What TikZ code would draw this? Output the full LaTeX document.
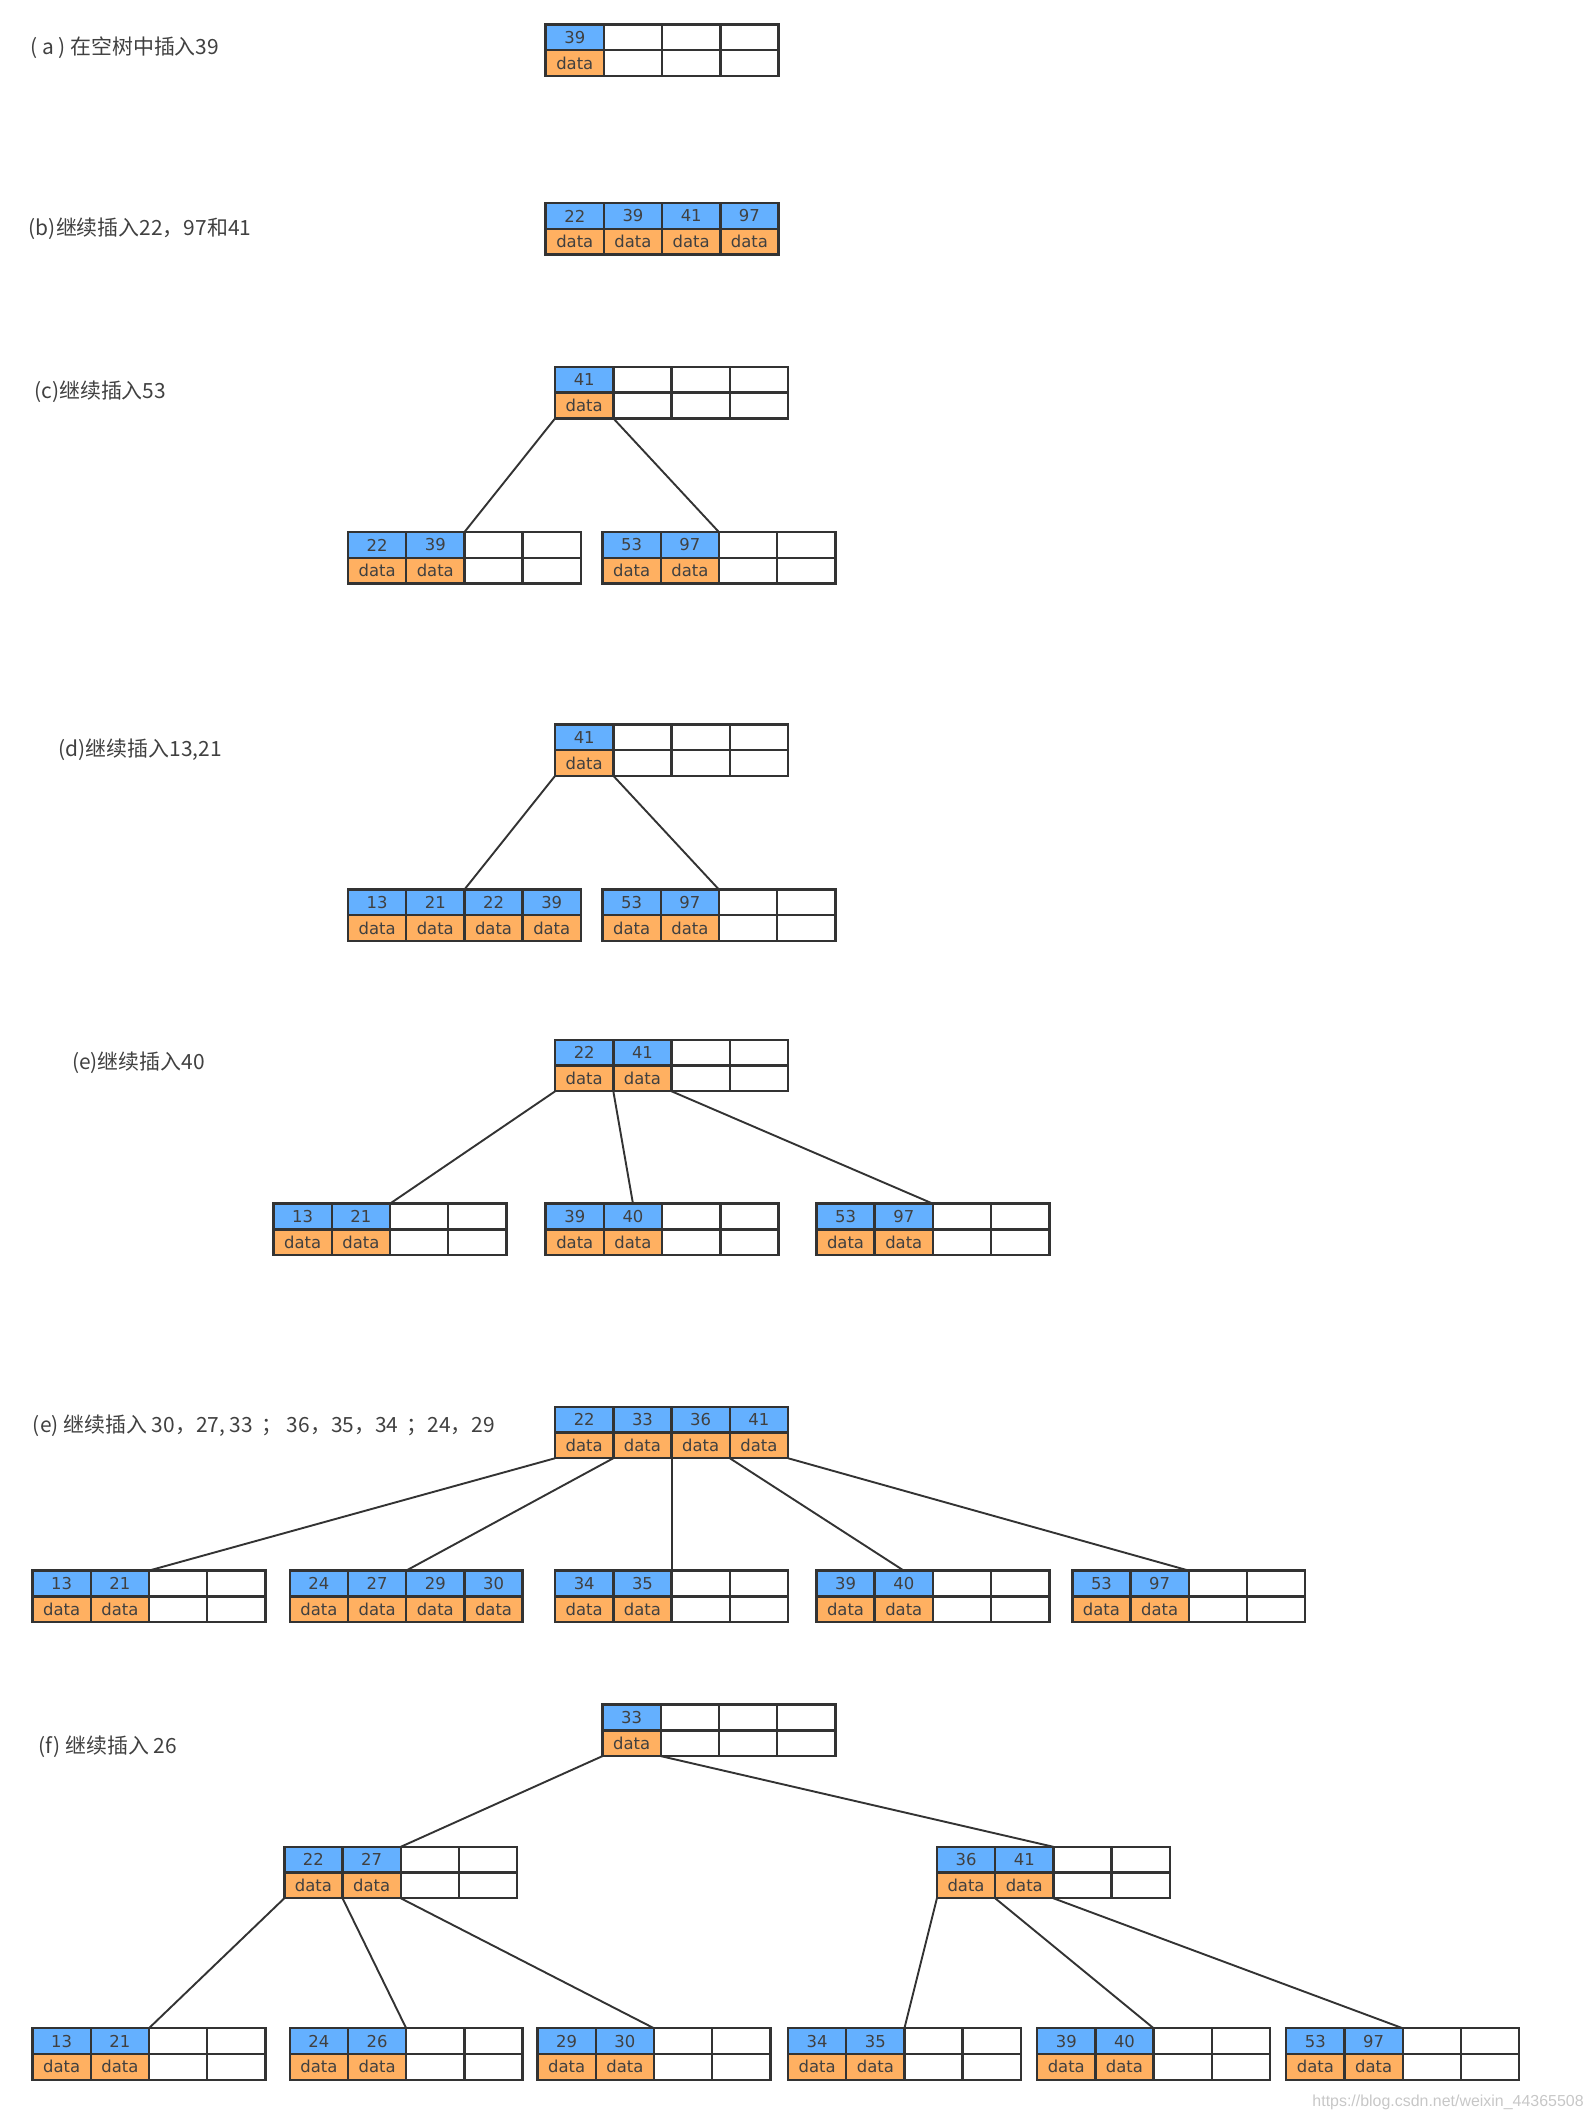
\documentclass[tikz,border=0pt]{standalone}
\usepackage{fontspec}
\setmainfont{DejaVu Sans}
\newfontfamily\cjk{Noto Sans CJK SC}
\newfontfamily\urlfont{Liberation Sans}
\usetikzlibrary{calc}

\definecolor{keyblue}{RGB}{100,176,255}
\definecolor{dataorange}{RGB}{255,176,97}
\definecolor{edge}{RGB}{51,51,51}
\definecolor{ink}{RGB}{64,64,64}

\tikzset{
  cell/.style={rectangle, draw=edge, line width=1pt, inner sep=0pt, outer sep=0pt,
    minimum width=8.6mm, minimum height=3.8mm, text=ink, font=\fontsize{6.9}{7}\selectfont},
  keycell/.style={cell, fill=keyblue},
  datacell/.style={cell, fill=dataorange},
  link/.style={draw=edge, line width=0.8pt},
  lbl/.style={anchor=west, inner sep=0pt, text=ink, font=\cjk\fontsize{8.8}{10}\selectfont},
}

% B 树结点：#1 名字，#2 左上角，#3 关键字
\newcommand{\btnode}[3]{%
  \coordinate (#1) at (#2);
  \foreach \i in {1,...,4} {
    \node[cell] (#1-k\i) at ($(#1)+(\i*43-21.5,9.5)$) {};
    \node[cell] (#1-d\i) at ($(#1)+(\i*43-21.5,28.5)$) {};
  }
  \foreach \k [count=\i] in {#3} {
    \node[keycell]  at (#1-k\i) {\k};
    \node[datacell] at (#1-d\i) {data};
  }
}

\begin{document}
\begin{tikzpicture}[x=0.2mm, y=-0.2mm]
  \useasboundingbox (0,0) rectangle (1177,1568);

  % (a)
  \node[lbl] (la) at (22,35) {( a ) 在空树中插入39};
  \btnode{a}{403,18}{39}

  % (b)
  \node[lbl] (lb) at (21,169) {(b)继续插入22，97和41};
  \btnode{b}{403,150}{22,39,41,97}

  % (c) 分裂出根 41
  \node[lbl] (lc) at (25,289) {(c)继续插入53};
  \btnode{c0}{410,271}{41}
  \btnode{c1}{257,393}{22,39}
  \btnode{c2}{445,393}{53,97}
  \draw[link] (c0-d1.south west) -- (c1-k2.north east);
  \draw[link] (c0-d1.south east) -- (c2-k2.north east);

  % (d)
  \node[lbl] (ld) at (43,554) {(d)继续插入13,21};
  \btnode{d0}{410,535}{41}
  \btnode{d1}{257,657}{13,21,22,39}
  \btnode{d2}{445,657}{53,97}
  \draw[link] (d0-d1.south west) -- (d1-k2.north east);
  \draw[link] (d0-d1.south east) -- (d2-k2.north east);

  % (e) 插入 40
  \node[lbl] (le) at (53,785) {(e)继续插入40};
  \btnode{e0}{410,768}{22,41}
  \btnode{e1}{202,889}{13,21}
  \btnode{e2}{403,889}{39,40}
  \btnode{e3}{603,889}{53,97}
  \draw[link] (e0-d1.south west) -- (e1-k2.north east);
  \draw[link] (e0-d1.south east) -- (e2-k2.north);
  \draw[link] (e0-d2.south east) -- (e3-k2.north east);

  % (e) 第二批插入
  \node[lbl] (lg) at (24,1053) {(e) 继续插入 30，27, 33 \,； 36，35，34 \,；24，29};
  \btnode{g0}{410,1039}{22,33,36,41}
  \btnode{g1}{24,1160}{13,21}
  \btnode{g2}{214,1160}{24,27,29,30}
  \btnode{g3}{410,1160}{34,35}
  \btnode{g4}{603,1160}{39,40}
  \btnode{g5}{792,1160}{53,97}
  \draw[link] (g0-d1.south west) -- (g1-k2.north east);
  \draw[link] (g0-d1.south east) -- (g2-k2.north east);
  \draw[link] (g0-d2.south east) -- (g3-k2.north east);
  \draw[link] (g0-d3.south east) -- (g4-k2.north);
  \draw[link] (g0-d4.south east) -- (g5-k2.north east);

  % (f) 插入 26，根再分裂
  \node[lbl] (lf) at (28,1290) {(f) 继续插入 26};
  \btnode{f0}{445,1259}{33}
  \btnode{f1}{210,1364}{22,27}
  \btnode{f2}{692,1364}{36,41}
  \btnode{f3}{24,1498}{13,21}
  \btnode{f4}{214,1498}{24,26}
  \btnode{f5}{397,1498}{29,30}
  \btnode{f6}{582,1498}{34,35}
  \btnode{f7}{766,1498}{39,40}
  \btnode{f8}{950,1498}{53,97}
  \draw[link] (f0-d1.south west) -- (f1-k2.north east);
  \draw[link] (f0-d1.south east) -- (f2-k2.north east);
  \draw[link] (f1-d1.south west) -- (f3-k2.north east);
  \draw[link] (f1-d1.south east) -- (f4-k2.north east);
  \draw[link] (f1-d2.south east) -- (f5-k2.north east);
  \draw[link] (f2-d1.south west) -- (f6-k2.north east);
  \draw[link] (f2-d1.south east) -- (f7-k2.north east);
  \draw[link] (f2-d2.south east) -- (f8-k2.north east);

  \node[anchor=east, inner sep=0pt, text=black!22, font=\urlfont\fontsize{6.7}{8}\selectfont]
    (wm) at (1170,1553) {https://blog.csdn.net/weixin\_44365508};
\end{tikzpicture}
\end{document}
